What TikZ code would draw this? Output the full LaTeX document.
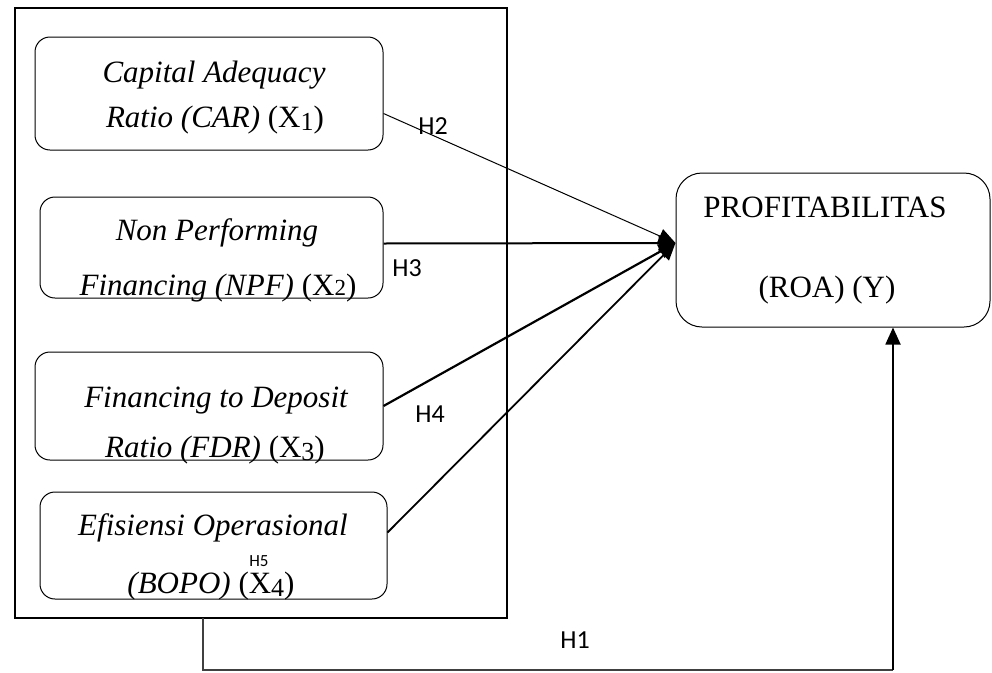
\documentclass[tikz,border=0pt]{standalone}
\usepackage{fontspec}
\setmainfont{Liberation Serif}
\newfontfamily\hfont{Carlito}
\usetikzlibrary{arrows.meta}
\newcommand\lowsub[1]{\raisebox{-3pt}{\fontsize{26}{26}\selectfont #1}}
\newcommand\smsub[1]{{\fontsize{23}{23}\selectfont #1}}
\begin{document}
\begin{tikzpicture}[x=1pt,y=-1pt,
  box/.style={draw,rounded corners=15pt,line width=1pt,inner sep=0pt},
  txt/.style={anchor=base,inner sep=0pt,font=\fontsize{31}{36}\selectfont},
  hlab/.style={inner sep=0pt,font=\hfont\fontsize{26}{30}\selectfont},
  conn/.style={line width=1.8pt,-{Triangle[length=17pt,width=15pt]}}]
\useasboundingbox (0,0) rectangle (992,672);
% outer frame
\node[draw,line width=1.2pt,minimum width=492pt,minimum height=610pt,inner sep=0pt] (outer) at (261,313) {};
% boxes
\node[box,minimum width=348pt,minimum height=113pt] (car) at (209,93.5) {};
\node[box,minimum width=343pt,minimum height=101pt] (npf) at (211.5,247.5) {};
\node[box,minimum width=348pt,minimum height=108pt] (fdr) at (209,406) {};
\node[box,minimum width=347pt,minimum height=107pt] (bopo) at (213.5,545.5) {};
\node[box,rounded corners=26pt,minimum width=314pt,minimum height=154pt] (roa) at (833,250) {};
% texts
\node[txt] (t1a) at (214,82) {\itshape Capital Adequacy};
\node[txt] (t1b) at (215,127) {\textit{Ratio (CAR)} (X\lowsub{1})};
\node[txt] (t2a) at (217,240) {\itshape Non Performing};
\node[txt] (t2b) at (218,295) {\textit{Financing (NPF)} (X\smsub{2})};
\node[txt] (t3a) at (216,407) {\itshape Financing to Deposit};
\node[txt] (t3b) at (215,457) {\textit{Ratio (FDR)} (X\lowsub{3})};
\node[txt] (t4a) at (213,535) {\itshape Efisiensi Operasional};
\node[txt] (t4b) at (211,593) {\textit{(BOPO)} (X\lowsub{4})};
\node[txt] (t5a) at (825,217) {PROFITABILITAS};
\node[txt] (t5b) at (827,297) {(ROA) (Y)};
% connectors
\coordinate (tip) at ([yshift=7pt]roa.west);
\draw[conn,line width=1pt] ([yshift=-20pt]car.east) -- (tip);
\draw[conn,line width=2pt] ([yshift=4pt]npf.east) -- (tip);
\draw[conn,line width=2.2pt] (fdr.east) -- (tip);
\draw[conn,line width=1.8pt] ([yshift=13pt]bopo.east) -- (tip);
\coordinate (bs) at (203,618);
\coordinate (c1) at (203,670);
\coordinate (c2) at (893,670);
\coordinate (ye) at (roa.south -| c2);
\draw[line width=1.2pt,black!75] (bs) -- (c1) -- (c2);
\draw[conn] (c2) -- (ye);
% hypothesis labels
\node[hlab] (h2) at (433,126) {H2};
\node[hlab] (h3) at (407,268) {H3};
\node[hlab] (h4) at (430,414) {H4};
\node[hlab,font=\hfont\fontsize{17}{20}\selectfont] (h5) at (259,561) {H5};
\node[hlab] (h1) at (575,640) {H1};
\end{tikzpicture}
\end{document}
